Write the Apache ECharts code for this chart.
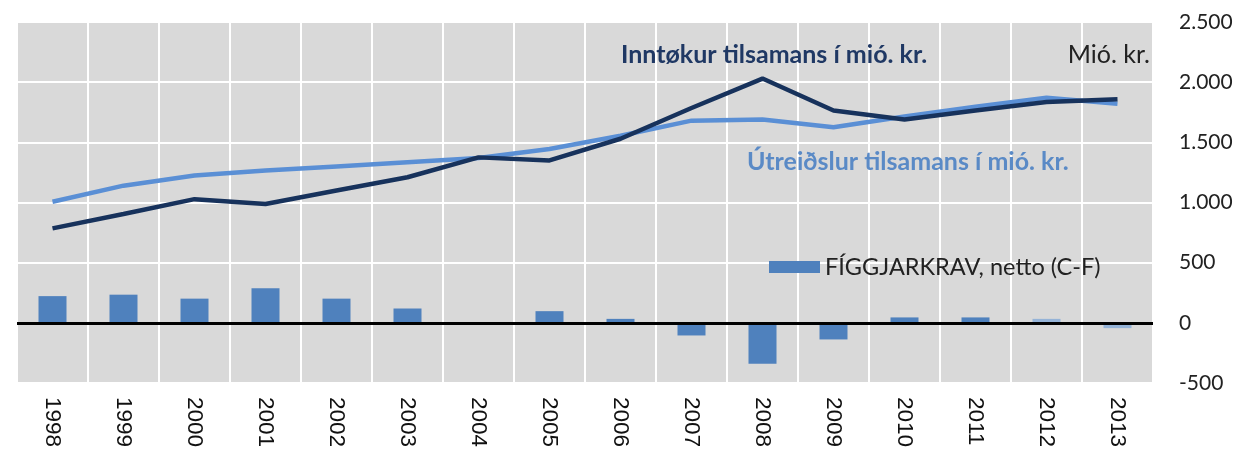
<!DOCTYPE html>
<html>
<head>
<meta charset="utf-8">
<script src="https://cdn.jsdelivr.net/npm/echarts@6/dist/echarts.min.js"></script>
<style>
html,body{margin:0;padding:0;background:#fff;}
#chart{width:1246px;height:451px;}
</style>
</head>
<body>
<div id="chart"></div>
<script>
var years = ['1998','1999','2000','2001','2002','2003','2004','2005','2006','2007','2008','2009','2010','2011','2012','2013'];
var inntokur = [785, 905, 1028, 987, 1100, 1210, 1375, 1350, 1530, 1785, 2030, 1765, 1690, 1765, 1835, 1858];
var utreidslur = [1006, 1140, 1225, 1265, 1300, 1335, 1370, 1445, 1555, 1680, 1690, 1625, 1715, 1795, 1870, 1820];
var netto = [222, 234, 201, 287, 201, 119, 0, 97, 33, -105, -341, -138, 45, 45, 33, -44];
var lightBarYears = ['2012', '2013'];
var yTicks = [-500, 0, 500, 1000, 1500, 2000, 2500];

var barData = netto.map(function (v, i) {
  var light = lightBarYears.indexOf(years[i]) >= 0;
  return { value: v, itemStyle: { color: light ? '#95b3d7' : '#4f81bd' } };
});

var chart = echarts.init(document.getElementById('chart'), null, { renderer: 'canvas' });
chart.setOption({
  animation: false,
  backgroundColor: '#ffffff',
  grid: { left: 17, right: 93, top: 22, bottom: 68, containLabel: false,
          show: true, backgroundColor: '#d9d9d9', borderWidth: 0 },
  legend: {
    data: ['FÍGGJARKRAV, netto (C-F)'],
    left: 769, top: 255, padding: 0,
    itemWidth: 51, itemHeight: 12, itemGap: 6,
    icon: 'rect',
    textStyle: { fontFamily: 'Lato', fontSize: 23.5, color: '#222' }
  },
  xAxis: {
    type: 'category',
    data: years,
    boundaryGap: true,
    axisLine: { show: false, onZero: false },
    axisTick: { show: false },
    splitLine: { show: true, interval: 0, lineStyle: { color: '#ffffff', width: 2 } },
    axisLabel: { interval: 0, rotate: -90, margin: 14, fontFamily: 'Liberation Sans', fontSize: 22.5, color: '#111' }
  },
  yAxis: {
    type: 'value',
    position: 'right',
    min: yTicks[0], max: yTicks[yTicks.length - 1], interval: 500,
    axisLine: { show: false },
    axisTick: { show: false },
    splitLine: { show: true, lineStyle: { color: '#ffffff', width: 2 } },
    axisLabel: {
      margin: 26, fontFamily: 'Lato', fontSize: 21, color: '#222',
      formatter: function (v) { return String(v).replace(/\B(?=(\d{3})+(?!\d))/g, '.'); }
    }
  },
  series: [
    {
      name: 'FÍGGJARKRAV, netto (C-F)',
      type: 'bar',
      data: barData,
      barWidth: 28,
      itemStyle: { color: '#4f81bd' },
      markLine: {
        silent: true, symbol: 'none', label: { show: false },
        lineStyle: { color: '#000', width: 3, type: 'solid' },
        data: [{ yAxis: 0 }]
      },
      z: 2
    },
    {
      name: 'Útreiðslur tilsamans í mió. kr.',
      type: 'line',
      data: utreidslur,
      showSymbol: false, symbol: 'none',
      lineStyle: { color: '#5a8fd5', width: 4.5 },
      itemStyle: { color: '#5a8fd5' },
      z: 3
    },
    {
      name: 'Inntøkur tilsamans í mió. kr.',
      type: 'line',
      data: inntokur,
      showSymbol: false, symbol: 'none',
      lineStyle: { color: '#17325c', width: 4.5 },
      itemStyle: { color: '#17325c' },
      z: 4
    }
  ],
  graphic: [
    { type: 'text', x: 621, y: 55, z: 10,
      style: { text: 'Inntøkur tilsamans í mió. kr.', fill: '#1f3864', fontFamily: 'Lato', fontWeight: 'bold', fontSize: 25, verticalAlign: 'middle' } },
    { type: 'text', x: 747, y: 162, z: 10,
      style: { text: 'Útreiðslur tilsamans í mió. kr.', fill: '#5a8ac6', fontFamily: 'Lato', fontWeight: 'bold', fontSize: 25, verticalAlign: 'middle' } },
    { type: 'text', x: 1150, y: 55, z: 10,
      style: { text: 'Mió. kr.', fill: '#222', fontFamily: 'Lato', fontSize: 25, align: 'right', verticalAlign: 'middle' } }
  ]
});
</script>
</body>
</html>
